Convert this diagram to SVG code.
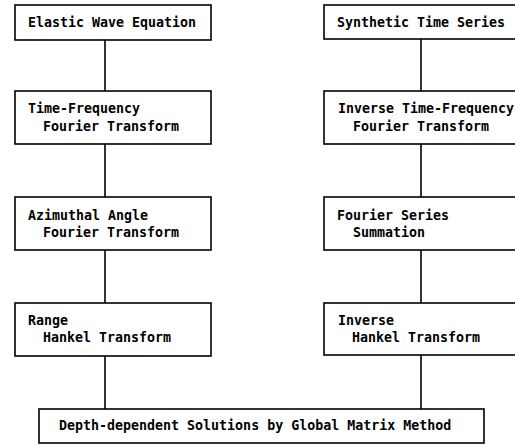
<svg xmlns="http://www.w3.org/2000/svg" width="515" height="446" viewBox="0 0 515 446">
<style>
.box{fill:#fff;stroke:#000;stroke-width:1.6}
.t{font-family:"DejaVu Sans Mono","Liberation Mono",monospace;font-weight:bold;font-size:13.3px;fill:#000}
.c{stroke:#000;stroke-width:1.6;fill:none}
</style>
<rect width="515" height="446" fill="#fff"/>
<g id="connectors">
<line class="c" x1="105" y1="40" x2="105" y2="91"/>
<line class="c" x1="105" y1="144" x2="105" y2="197"/>
<line class="c" x1="105" y1="250" x2="105" y2="303"/>
<line class="c" x1="105" y1="356" x2="105" y2="409"/>
<line class="c" x1="421" y1="39" x2="421" y2="91"/>
<line class="c" x1="421" y1="144" x2="421" y2="197"/>
<line class="c" x1="421" y1="250" x2="421" y2="303"/>
<line class="c" x1="421" y1="355" x2="421" y2="409"/>
</g>
<g id="elastic">
<rect class="box" x="15" y="5" width="196" height="35"/>
<text class="t" x="28" y="27">Elastic Wave Equation</text>
</g>
<g id="timefreq">
<rect class="box" x="15" y="91" width="196" height="53"/>
<text class="t" x="28" y="113">Time-Frequency</text>
<text class="t" x="43" y="131">Fourier Transform</text>
</g>
<g id="azimuthal">
<rect class="box" x="15" y="197" width="196" height="53"/>
<text class="t" x="28" y="220">Azimuthal Angle</text>
<text class="t" x="43" y="237">Fourier Transform</text>
</g>
<g id="range">
<rect class="box" x="15" y="303" width="196" height="53"/>
<text class="t" x="28" y="325">Range</text>
<text class="t" x="43" y="342">Hankel Transform</text>
</g>
<g id="synthetic">
<rect class="box" x="324" y="5" width="196" height="34"/>
<text class="t" x="337" y="27">Synthetic Time Series</text>
</g>
<g id="invtimefreq">
<rect class="box" x="324" y="91" width="196" height="53"/>
<text class="t" x="338" y="113">Inverse Time-Frequency</text>
<text class="t" x="353" y="131">Fourier Transform</text>
</g>
<g id="fourierseries">
<rect class="box" x="324" y="197" width="196" height="53"/>
<text class="t" x="337" y="220">Fourier Series</text>
<text class="t" x="353" y="237">Summation</text>
</g>
<g id="invhankel">
<rect class="box" x="324" y="303" width="196" height="52"/>
<text class="t" x="338" y="325">Inverse</text>
<text class="t" x="352" y="342">Hankel Transform</text>
</g>
<g id="depth">
<rect class="box" x="39" y="409" width="445" height="34"/>
<text class="t" x="59" y="430">Depth-dependent Solutions by Global Matrix Method</text>
</g>
</svg>
